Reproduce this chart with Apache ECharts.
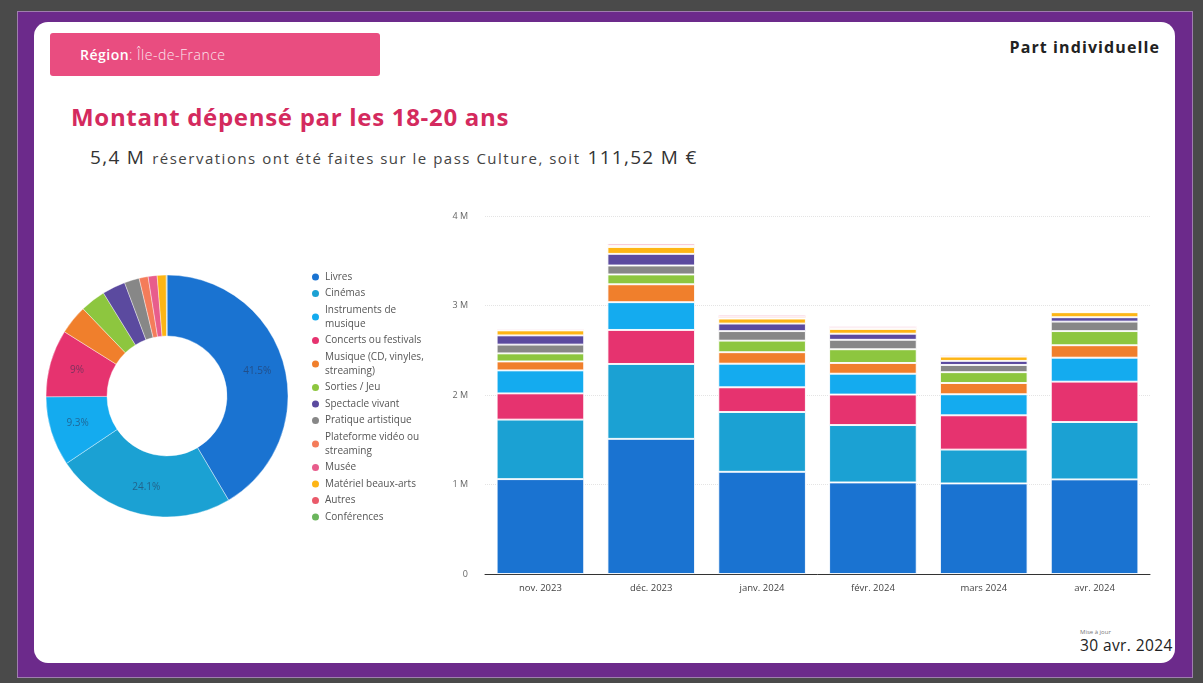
<!DOCTYPE html>
<html>
<head>
<meta charset="utf-8">
<title>Montant dépensé par les 18-20 ans</title>
<style>
  body { margin: 0; background: #4a4a4a; width: 1203px; height: 683px; overflow: hidden; font-family: "Open Sans", "DejaVu Sans", sans-serif; }
  .frame { position: absolute; left: 17px; top: 11px; width: 1176px; height: 667px; background: #6c2a8b; border: 1px solid rgba(210,210,210,0.5); box-sizing: border-box; }
  .card { position: absolute; left: 34px; top: 22px; width: 1141px; height: 641px; background: #fff; border-radius: 14px; }
  .region { position: absolute; left: 50px; top: 33px; width: 330px; height: 43px; background: #e94d80; border-radius: 3px; color: #fff; font-size: 14px; letter-spacing: 0.5px; line-height: 44px; padding-left: 30px; box-sizing: border-box; }
  .region b { font-weight: 600; }
  .region span { font-weight: 300; opacity: 0.85; }
  .part { position: absolute; right: 43px; top: 36px; font-size: 16px; font-weight: 700; color: #222; letter-spacing: 1.1px; }
  .title { position: absolute; left: 71px; top: 100px; font-size: 24px; font-weight: 700; color: #d42a5e; letter-spacing: 0.7px; }
  .sub { position: absolute; left: 90px; top: 144px; color: #444; font-size: 15px; letter-spacing: 1.5px; }
  .sub .big { font-size: 19px; color: #333; letter-spacing: 1.3px; }
  .sub .gap { display: inline-block; width: 7px; }
  .maj { position: absolute; left: 1080px; top: 628px; font-size: 6px; color: #777; }
  .date { position: absolute; left: 1080px; top: 634px; font-size: 15.5px; color: #222; letter-spacing: 0.4px; }
  #chart { position: absolute; left: 0; top: 0; width: 1203px; height: 683px; }
</style>
</head>
<body>
<div class="frame"></div>
<div class="card"></div>
<div class="region"><b>Région</b><span>: Île-de-France</span></div>
<div class="part">Part individuelle</div>
<div class="title">Montant dépensé par les 18-20 ans</div>
<div class="sub"><span class="big">5,4 M</span><span class="gap"></span>réservations ont été faites sur le pass Culture, soit<span class="gap"></span><span class="big">111,52 M €</span></div>
<div class="maj">Mise à jour</div>
<div class="date">30 avr. 2024</div>
<div id="chart"></div>

<script src="https://cdn.jsdelivr.net/npm/echarts@6/dist/echarts.min.js"></script>
<script>
  // catégories (ordre du donut / de la légende)
  var categories = ['Livres', 'Cinémas', 'Instruments de musique', 'Concerts ou festivals',
    'Musique (CD, vinyles, streaming)', 'Sorties / Jeu', 'Spectacle vivant', 'Pratique artistique',
    'Plateforme vidéo ou streaming', 'Musée', 'Matériel beaux-arts', 'Autres', 'Conférences'];
  var colors = ['#1a73d1', '#1ba1d3', '#14abef', '#e6336f', '#f07f2c', '#8dc63f', '#5b4a9f',
    '#878787', '#f47c5a', '#e85d8c', '#fdb515', '#ea5a6a', '#6ab55c'];
  // part du montant total (%)
  var shares = [41.5, 24.1, 9.3, 9.0, 3.9, 3.4, 3.1, 2.0, 1.2, 1.2, 1.2, 0.05, 0.05];

  var months = ['nov. 2023', 'déc. 2023', 'janv. 2024', 'févr. 2024', 'mars 2024', 'avr. 2024'];
  // montants mensuels en M €
  var livres      = [1.060, 1.510, 1.142, 1.023, 1.012, 1.057];
  var cinemas     = [0.665, 0.837, 0.668, 0.641, 0.378, 0.641];
  var concerts    = [0.293, 0.380, 0.276, 0.341, 0.383, 0.451];
  var instruments = [0.257, 0.310, 0.264, 0.233, 0.235, 0.268];
  var musique     = [0.100, 0.200, 0.128, 0.120, 0.126, 0.139];
  var sorties     = [0.090, 0.110, 0.129, 0.153, 0.121, 0.158];
  var pratique    = [0.098, 0.100, 0.107, 0.106, 0.081, 0.106];
  var spectacle   = [0.103, 0.130, 0.084, 0.068, 0.045, 0.049];
  var materiel    = [0.056, 0.077, 0.056, 0.053, 0.048, 0.056];
  var plateforme  = [0.009, 0.018, 0.019, 0.015, 0.011, 0.012];
  var musee       = [0.011, 0.022, 0.023, 0.019, 0.014, 0.015];
  var autres      = [0.002, 0.003, 0.003, 0.003, 0.002, 0.002];
  var conferences = [0.001, 0.002, 0.002, 0.002, 0.001, 0.002];
  var yTicks = [0, 1, 2, 3, 4];

  // ordre d'empilement des barres (du bas vers le haut)
  var barStack = [
    ['Livres', livres], ['Cinémas', cinemas], ['Concerts ou festivals', concerts],
    ['Instruments de musique', instruments], ['Musique (CD, vinyles, streaming)', musique],
    ['Sorties / Jeu', sorties], ['Pratique artistique', pratique], ['Spectacle vivant', spectacle],
    ['Matériel beaux-arts', materiel], ['Plateforme vidéo ou streaming', plateforme],
    ['Musée', musee], ['Autres', autres], ['Conférences', conferences]
  ];

  var colorOf = function(name) { return colors[categories.indexOf(name)]; };
  var wrapped = {
    'Instruments de musique': 'Instruments de\nmusique',
    'Musique (CD, vinyles, streaming)': 'Musique (CD, vinyles,\nstreaming)',
    'Plateforme vidéo ou streaming': 'Plateforme vidéo ou\nstreaming'
  };

  var series = [{
    type: 'pie',
    center: [167, 396],
    radius: [60, 121],
    startAngle: 90,
    data: categories.map(function(c, i) {
      return { name: c, value: shares[i], itemStyle: { color: colors[i] } };
    }),
    itemStyle: { borderColor: '#fff', borderWidth: 0.4 },
    label: {
      position: 'inside',
      color: 'rgba(40,50,80,0.55)',
      fontSize: 10,
      fontFamily: 'Open Sans',
      formatter: function(p) {
        return p.percent >= 5 ? Number(p.percent.toFixed(1)) + '%' : '';
      }
    },
    labelLine: { show: false },
    emphasis: { disabled: true }
  }];

  barStack.forEach(function(s) {
    series.push({
      type: 'bar',
      name: s[0],
      stack: 'montant',
      data: s[1],
      barWidth: '79%',
      itemStyle: { color: colorOf(s[0]), borderColor: '#fff', borderWidth: 0.9 },
      emphasis: { disabled: true }
    });
  });

  var chart = echarts.init(document.getElementById('chart'));
  chart.setOption({
    animation: false,
    backgroundColor: 'transparent',
    legend: {
      data: categories,
      orient: 'vertical',
      left: 305,
      top: 265,
      icon: 'circle',
      itemWidth: 9,
      itemHeight: 9,
      itemGap: 2.5,
      selectedMode: false,
      textStyle: { fontSize: 10, color: '#555', lineHeight: 14, fontFamily: 'Open Sans' },
      formatter: function(name) { return wrapped[name] || name; }
    },
    grid: { left: 485, right: 53, top: 216, bottom: 109 },
    xAxis: {
      type: 'category',
      data: months,
      axisLine: { lineStyle: { color: '#333', width: 1 } },
      axisTick: { show: false },
      axisLabel: { color: '#444', fontSize: 9.5, margin: 9, fontFamily: 'Open Sans' }
    },
    yAxis: {
      type: 'value',
      min: yTicks[0],
      max: yTicks[yTicks.length - 1],
      interval: 1,
      axisLine: { show: false },
      axisTick: { show: false },
      splitLine: { lineStyle: { color: '#e4e4e4', type: 'dotted' } },
      axisLabel: {
        color: '#666', fontSize: 9, margin: 17, fontFamily: 'Open Sans',
        formatter: function(v) { return v === 0 ? '0' : v + ' M'; }
      }
    },
    series: series
  });
</script>
</body>
</html>
